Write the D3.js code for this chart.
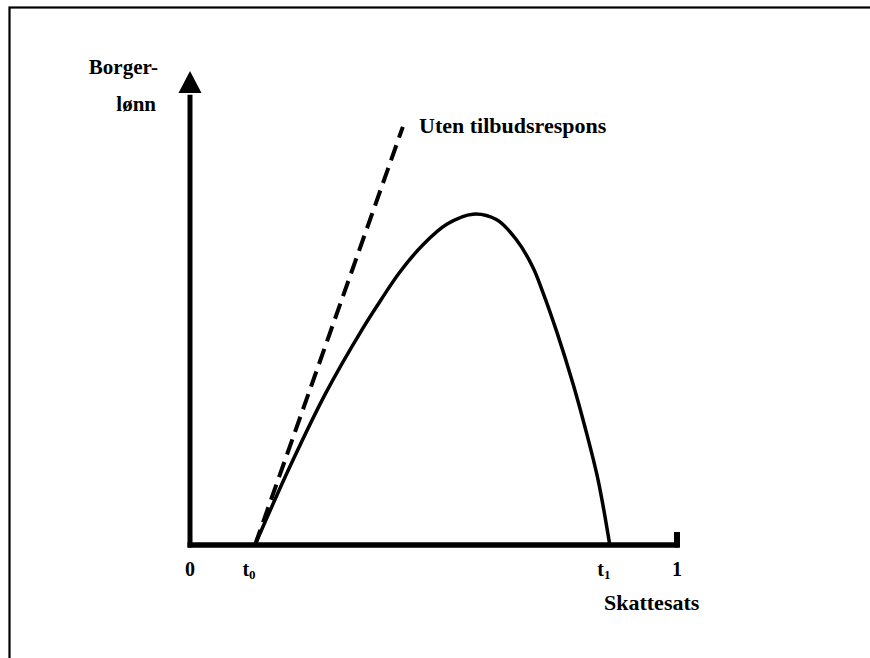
<!DOCTYPE html>
<html>
<head>
<meta charset="utf-8">
<script src="https://cdn.jsdelivr.net/npm/d3@7"></script>
<style>
  body { margin: 0; background: #fff; }
  svg text { font-family: "Liberation Serif", "Times New Roman", Times, serif; font-weight: bold; fill: #000; }
</style>
</head>
<body>
<svg width="870" height="658"></svg>
<script>
// solid curve: borgerlønn vs skattesats (with supply response)
const curveX = [0.1335, 0.205, 0.279, 0.353, 0.392, 0.431, 0.478, 0.528, 0.581, 0.630, 0.671, 0.704, 0.725, 0.754, 0.786, 0.811, 0.838, 0.862];
const curveY = [0, 0.165, 0.321, 0.454, 0.517, 0.576, 0.633, 0.677, 0.698, 0.686, 0.643, 0.586, 0.532, 0.447, 0.342, 0.249, 0.137, 0];
// dashed line: without supply response
const dashX = [0.1335, 0.437];
const dashY = [0, 0.882];
// tick labels on x axis
const tickVals = [0, 0.1335, 0.862, 1];
const tickBase = ['0', 't', 't', '1'];
const tickSub = ['', '0', '1', ''];

const svg = d3.select('svg');
const x = d3.scaleLinear().domain([0, 1]).range([190, 677]);
const y = d3.scaleLinear().domain([0, 1]).range([545, 71]);

// frame (only top and left edges visible)
svg.append('rect')
    .attr('x', 9.5).attr('y', 7.5)
    .attr('width', 900).attr('height', 700)
    .attr('fill', 'none').attr('stroke', '#000').attr('stroke-width', 2.2);

// y axis with arrow
svg.append('line')
    .attr('x1', x(0)).attr('x2', x(0))
    .attr('y1', y(0) + 2.5).attr('y2', y(0.95))
    .attr('stroke', '#000').attr('stroke-width', 5);
svg.append('path')
    .attr('d', `M${x(0)},${y(1)} L${x(0) + 11.5},${y(1) + 22} L${x(0) - 11.5},${y(1) + 22} Z`)
    .attr('fill', '#000');

// x axis
svg.append('line')
    .attr('x1', x(0) - 2.5).attr('x2', x(1) + 2.5)
    .attr('y1', y(0)).attr('y2', y(0))
    .attr('stroke', '#000').attr('stroke-width', 5.5);
svg.append('line')
    .attr('x1', x(1)).attr('x2', x(1))
    .attr('y1', y(0) + 2.5).attr('y2', y(0) - 13)
    .attr('stroke', '#000').attr('stroke-width', 6);

const line = d3.line().x(d => x(d[0])).y(d => y(d[1]));

svg.append('path')
    .datum(dashX.map((v, i) => [v, dashY[i]]))
    .attr('d', line)
    .attr('fill', 'none').attr('stroke', '#000')
    .attr('stroke-width', 4).attr('stroke-dasharray', '16,8');

svg.append('path')
    .datum(curveX.map((v, i) => [v, curveY[i]]))
    .attr('d', line.curve(d3.curveCatmullRom.alpha(0.5)))
    .attr('fill', 'none').attr('stroke', '#000')
    .attr('stroke-width', 3.5);

// tick labels
const ticks = svg.selectAll('.tick').data(tickVals).enter()
    .append('text')
    .attr('class', 'tick')
    .attr('x', (d, i) => x(d) - (tickSub[i] ? 6 : 0))
    .attr('y', 576)
    .attr('text-anchor', 'middle')
    .style('font-size', '20px');
ticks.append('tspan').text((d, i) => tickBase[i]);
ticks.append('tspan')
    .attr('dy', 3).style('font-size', '13px')
    .text((d, i) => tickSub[i]);

svg.append('text').attr('x', 158).attr('y', 74).attr('text-anchor', 'end')
    .style('font-size', '21px').text('Borger-');
svg.append('text').attr('x', 156).attr('y', 111).attr('text-anchor', 'end')
    .style('font-size', '21px').text('lønn');
svg.append('text').attr('x', 604).attr('y', 610)
    .style('font-size', '22px').text('Skattesats');
svg.append('text').attr('x', 419).attr('y', 133)
    .style('font-size', '22px').text('Uten tilbudsrespons');
</script>
</body>
</html>
